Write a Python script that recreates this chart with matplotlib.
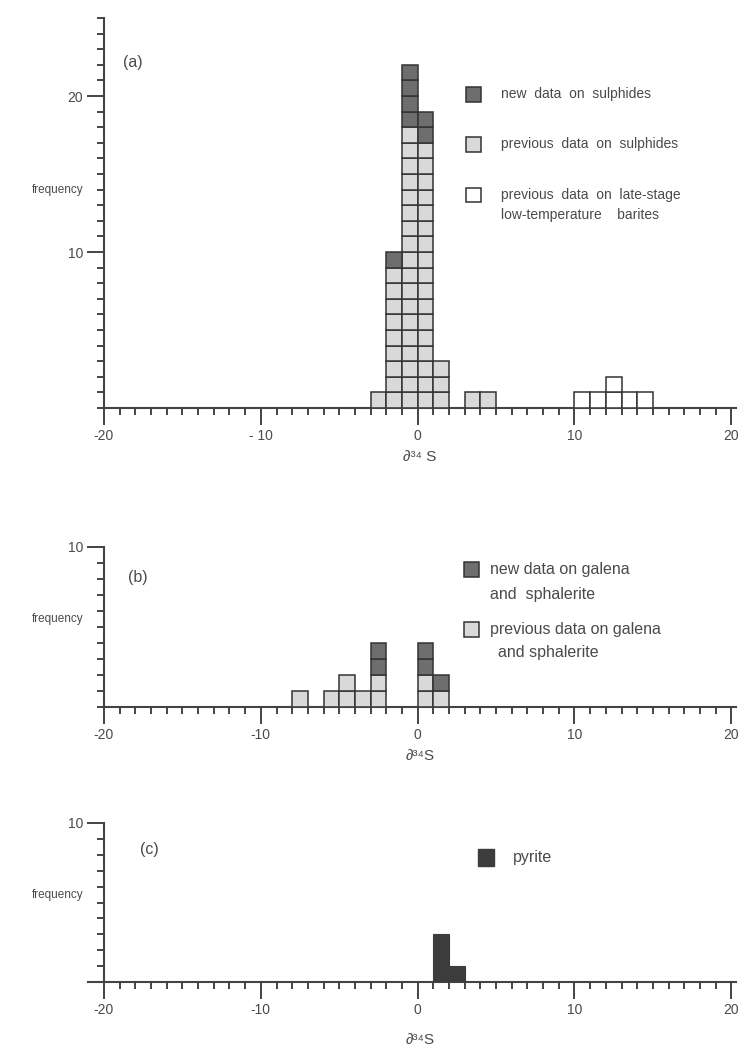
import matplotlib
matplotlib.use("Agg")
import matplotlib.pyplot as plt
from matplotlib.ticker import MultipleLocator, FixedLocator

plt.rcParams['font.family'] = ['Liberation Sans', 'DejaVu Sans']

# panel (a): sulphides + barites, counts per 1 permil bin (left edge)
a_bins = [-3, -2, -1, 0, 1, 3, 4]
a_prev = [1, 9, 18, 17, 3, 1, 1]
a_new = [0, 1, 4, 2, 0, 0, 0]
barite_bins = [10, 11, 12, 13, 14]
barite = [1, 1, 2, 1, 1]

# panel (b): galena and sphalerite
b_bins = [-8, -6, -5, -4, -3, 0, 1]
b_prev = [1, 1, 2, 1, 2, 2, 1]
b_new = [0, 0, 0, 0, 2, 2, 1]

# panel (c): pyrite
c_bins = [1, 2]
c_pyrite = [3, 1]

x_ticks = [-20, -10, 0, 10, 20]
x_ticklabels = ['-20', '- 10', '0', '10', '20']
x_ticklabels_bc = ['-20', '-10', '0', '10', '20']

DARK = '#6e6e6e'
LIGHT = '#d9d9d9'
EDGE = '#333333'
TXT = '#4a4a4a'


def cells(ax, bins, counts, start, color):
    # stacked unit squares, one per sample
    for b, n, s in zip(bins, counts, start):
        for k in range(n):
            ax.bar(b, 1, bottom=s + k, width=1, align='edge',
                   color=color, edgecolor=EDGE, linewidth=1.1, zorder=3)


def setup(ax, ymax, ymajor, xlabels):
    ax.set_xlim(-20, 20.3)
    ax.set_ylim(0, ymax)
    for s in ['top', 'right']:
        ax.spines[s].set_visible(False)
    for s in ['left', 'bottom']:
        ax.spines[s].set_color('#444444')
        ax.spines[s].set_linewidth(1.5)
    ax.xaxis.set_major_locator(FixedLocator(x_ticks))
    ax.set_xticklabels(xlabels)
    ax.xaxis.set_minor_locator(MultipleLocator(1))
    ax.yaxis.set_major_locator(FixedLocator(ymajor))
    ax.yaxis.set_minor_locator(MultipleLocator(1))
    ax.tick_params(which='major', length=12, width=1.4, color='#444444',
                   labelcolor=TXT, labelsize=10, direction='out', pad=3)
    ax.tick_params(which='minor', length=5, width=1.4, color='#444444',
                   direction='out')
    ax.patch.set_alpha(0)


def key(ax, x, y, col, w=0.95, h=0.95):
    ax.add_patch(plt.Rectangle((x, y - h / 2), w, h, facecolor=col,
                               edgecolor=EDGE, linewidth=1.1, zorder=3))


fig = plt.figure(figsize=(7.38, 10.5), dpi=100)

# ---- (a)
ax1 = fig.add_axes([104 / 738, 1 - 408 / 1050, 632 / 738, 390 / 1050])
setup(ax1, 25, [10, 20], x_ticklabels)
cells(ax1, a_bins, a_prev, [0] * len(a_bins), LIGHT)
cells(ax1, a_bins, a_new, a_prev, DARK)
cells(ax1, barite_bins, barite, [0] * len(barite_bins), 'white')
ax1.text(0.03, 0.887, '(a)', transform=ax1.transAxes, fontsize=11.5,
         color=TXT, va='center')
ax1.text(-0.033, 0.56, 'frequency', transform=ax1.transAxes, fontsize=8.5,
         color=TXT, ha='right', va='center')
ax1.set_xlabel('∂³⁴ S', fontsize=11, color=TXT, labelpad=5)

key(ax1, 3.1, 20.1, DARK)
ax1.text(5.3, 20.1, 'new  data  on  sulphides', fontsize=10, color=TXT, va='center')
key(ax1, 3.1, 16.9, LIGHT)
ax1.text(5.3, 16.9, 'previous  data  on  sulphides', fontsize=10, color=TXT, va='center')
key(ax1, 3.1, 13.65, 'white')
ax1.text(5.3, 13.65, 'previous  data  on  late-stage', fontsize=10, color=TXT, va='center')
ax1.text(5.3, 12.4, 'low-temperature    barites', fontsize=10, color=TXT, va='center')

# ---- (b)
ax2 = fig.add_axes([104 / 738, 1 - 707 / 1050, 632 / 738, 160 / 1050])
setup(ax2, 10, [10], x_ticklabels_bc)
cells(ax2, b_bins, b_prev, [0] * len(b_bins), LIGHT)
cells(ax2, b_bins, b_new, b_prev, DARK)
ax2.text(0.038, 0.81, '(b)', transform=ax2.transAxes, fontsize=11.5,
         color=TXT, va='center')
ax2.text(-0.033, 0.55, 'frequency', transform=ax2.transAxes, fontsize=8.5,
         color=TXT, ha='right', va='center')
ax2.set_xlabel('∂³⁴S', fontsize=11, color=TXT, labelpad=5)

key(ax2, 2.95, 8.6, DARK)
ax2.text(4.6, 8.6, 'new data on galena', fontsize=11.5, color=TXT, va='center')
ax2.text(4.6, 7.0, 'and  sphalerite', fontsize=11.5, color=TXT, va='center')
key(ax2, 2.95, 4.85, LIGHT)
ax2.text(4.6, 4.85, 'previous data on galena', fontsize=11.5, color=TXT, va='center')
ax2.text(5.1, 3.4, 'and sphalerite', fontsize=11.5, color=TXT, va='center')

# ---- (c)
ax3 = fig.add_axes([104 / 738, 1 - 982 / 1050, 632 / 738, 159 / 1050])
setup(ax3, 10, [10], x_ticklabels_bc)
ax3.spines['bottom'].set_bounds(-21, 20.3)
ax3.bar(c_bins, c_pyrite, width=1, align='edge', color='#3c3c3c',
        edgecolor='#3c3c3c', linewidth=0.8, zorder=3)
ax3.text(0.057, 0.836, '(c)', transform=ax3.transAxes, fontsize=11.5,
         color=TXT, va='center')
ax3.text(-0.033, 0.55, 'frequency', transform=ax3.transAxes, fontsize=8.5,
         color=TXT, ha='right', va='center')
ax3.set_xlabel('∂³⁴S', fontsize=11, color=TXT, labelpad=12)
ax3.add_patch(plt.Rectangle((3.85, 7.3), 1.0, 1.05, facecolor='#3c3c3c',
                            edgecolor='#3c3c3c', zorder=3))
ax3.text(6.1, 7.8, 'pyrite', fontsize=11.5, color=TXT, va='center')

fig.savefig('out.png', dpi=100)
